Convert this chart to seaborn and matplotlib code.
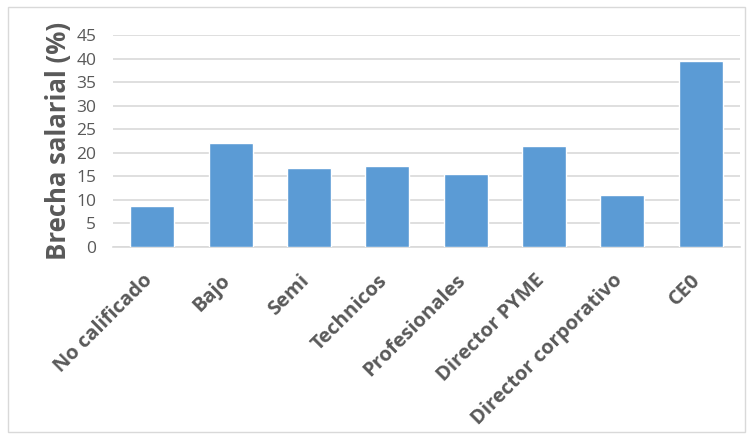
import matplotlib
matplotlib.use("Agg")
import matplotlib.pyplot as plt
import matplotlib.transforms as mtransforms
import seaborn as sns
import pandas as pd
from matplotlib.patches import Rectangle

categories = ["No calificado", "Bajo", "Semi", "Technicos", "Profesionales",
              "Director PYME", "Director corporativo", "CE0"]
values = [8.8, 22.1, 16.7, 17.1, 15.6, 21.5, 11.0, 39.4]
yticks = [0, 5, 10, 15, 20, 25, 30, 35, 40, 45]

sns.set_theme(style="white")
plt.rcParams['font.family'] = ['Open Sans', 'DejaVu Sans']

df = pd.DataFrame({"cat": categories, "val": values})

fig = plt.figure(figsize=(7.52, 4.38), dpi=100)
ax = fig.add_axes([113/752, 1-247/438, (740-113)/752, (247-35)/438])

sns.barplot(data=df, x="cat", y="val", color="#5B9BD5", saturation=1,
            width=0.56, ax=ax, zorder=3)

ax.set_ylim(0, 45)
ax.set_yticks(yticks)
ax.set_yticklabels([str(t) for t in yticks], color="#595959", fontsize=12.5)
ax.grid(axis="y", color="#D9D9D9", linewidth=1.2, zorder=0)
ax.set_axisbelow(True)
for s in ["top", "right", "left"]:
    ax.spines[s].set_visible(False)
ax.spines["bottom"].set_color("#D9D9D9")
ax.spines["bottom"].set_linewidth(1.2)
ax.tick_params(axis="both", length=0)
ax.tick_params(axis="y", pad=12)

ax.set_xlabel("")
ax.set_ylabel("Brecha salarial (%)", fontsize=18.5, fontweight="bold", color="#595959", labelpad=3)
ax.set_xticks(range(len(categories)))
ax.set_xticklabels(categories, rotation=45, ha="right", rotation_mode="anchor",
                   fontsize=14.5, fontweight="bold", color="#595959")
ax.tick_params(axis="x", pad=17)
offset = mtransforms.ScaledTranslation(-10/100, 0, fig.dpi_scale_trans)
for lbl in ax.get_xticklabels():
    lbl.set_transform(lbl.get_transform() + offset)

fig.patches.append(Rectangle((8/752, 6/438), (745-8)/752, (431-6)/438,
                             transform=fig.transFigure, fill=False,
                             edgecolor="#D9D9D9", linewidth=1))

fig.savefig("out.png", dpi=100)
